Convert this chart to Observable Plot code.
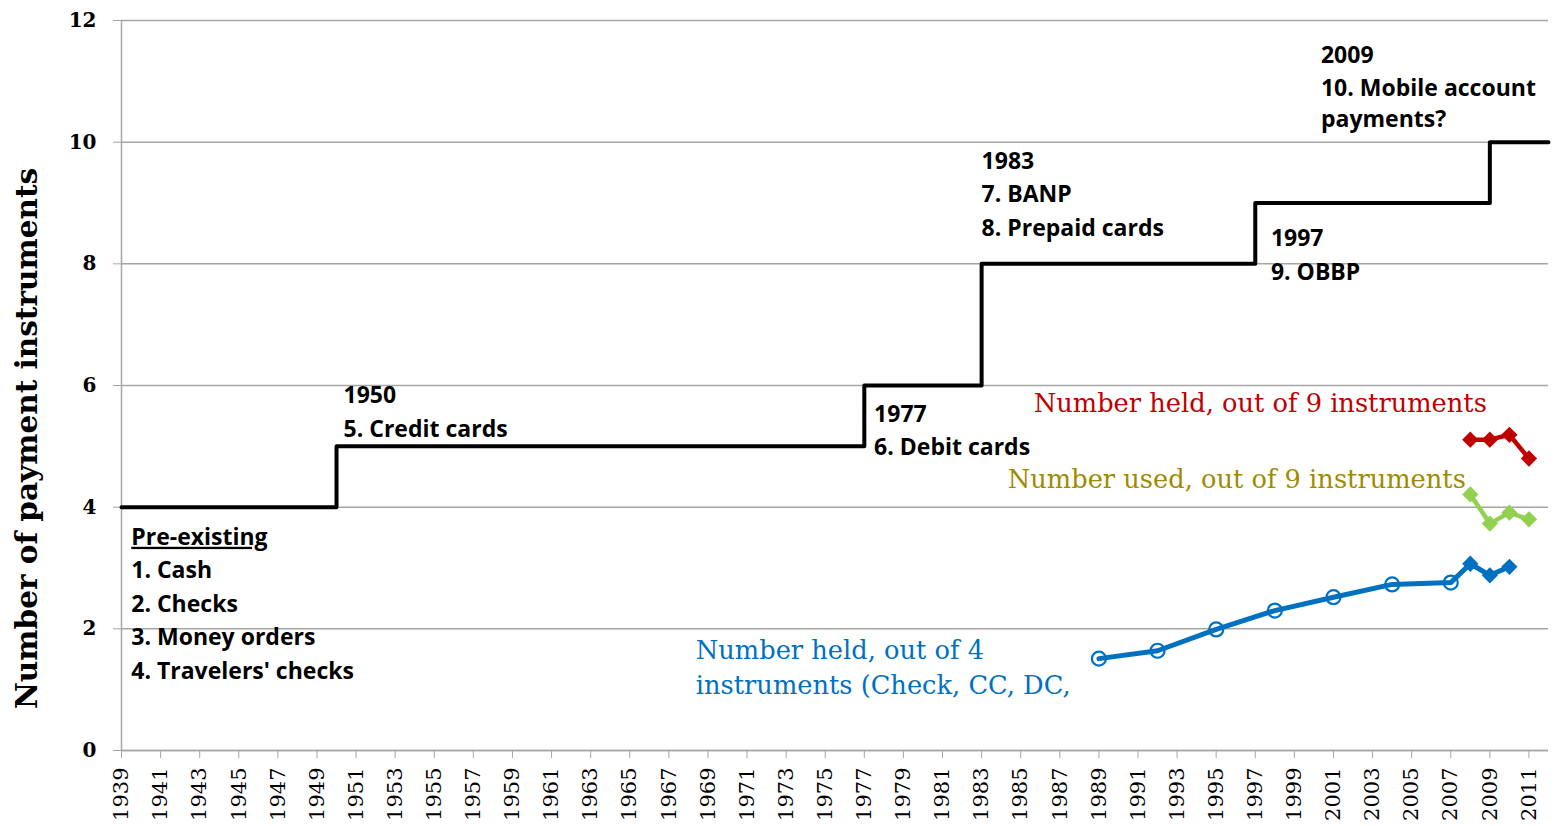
<!DOCTYPE html>
<html>
<head>
<meta charset="utf-8">
<script src="https://cdn.jsdelivr.net/npm/d3@7"></script>
<script src="https://cdn.jsdelivr.net/npm/@observablehq/plot@0.6"></script>
<style>
  html, body { margin: 0; padding: 0; background: #fff; }
  #chart svg { display: block; }
</style>
</head>
<body>
<div id="chart"></div>
<script>
// ---- data ----
const stepYears = [1939, 1950, 1977, 1983, 1997, 2009, 2012];
const stepCounts = [4, 5, 6, 8, 9, 10, 10];

const held4Years = [1989, 1992, 1995, 1998, 2001, 2004, 2007, 2008, 2009, 2010];
const held4Values = [1.51, 1.64, 1.99, 2.30, 2.52, 2.73, 2.76, 3.07, 2.88, 3.02];
const held4Markers = ["circle", "circle", "circle", "circle", "circle", "circle", "circle", "diamond", "diamond", "diamond"];

const surveyYears = [2008, 2009, 2010, 2011];
const held9Values = [5.11, 5.11, 5.19, 4.80];
const used9Values = [4.21, 3.73, 3.91, 3.80];

const yTicks = [0, 2, 4, 6, 8, 10, 12];
const xTicks = [1939, 1941, 1943, 1945, 1947, 1949, 1951, 1953, 1955, 1957, 1959, 1961, 1963, 1965, 1967, 1969, 1971, 1973, 1975, 1977, 1979, 1981, 1983, 1985, 1987, 1989, 1991, 1993, 1995, 1997, 1999, 2001, 2003, 2005, 2007, 2009, 2011];

const noteTexts = [
  "1. Cash\n2. Checks\n3. Money orders\n4. Travelers' checks",
  "1950\n5. Credit cards",
  "1977\n6. Debit cards",
  "1983\n7. BANP\n8. Prepaid cards",
  "1997\n9. OBBP",
  "2009"
];
const noteYears = [1939.5, 1950.36, 1977.5, 1983.0, 1997.8, 2000.36];
const noteValues = [3.23, 6.10, 5.80, 9.96, 8.68, 11.70];

const seriesLabels = ["Number held, out of 9 instruments", "Number used, out of 9 instruments", "Number held, out of 4\ninstruments (Check, CC, DC,"];
const seriesLabelYears = [1985.67, 1984.34, 1968.38];
const seriesLabelValues = [5.75, 4.50, 1.40];
const seriesColors = ["#C00000", "#9E8C00", "#0070C0"];

// ---- tables ----
const stepData = stepYears.map((y, i) => ({year: y, n: stepCounts[i]}));
const held4 = held4Years.map((y, i) => ({year: y, v: held4Values[i], m: held4Markers[i]}));
const held9 = surveyYears.map((y, i) => ({year: y, v: held9Values[i]}));
const used9 = surveyYears.map((y, i) => ({year: y, v: used9Values[i]}));
const notes = noteTexts.map((t, i) => ({text: t, year: noteYears[i], v: noteValues[i]}));
const labels = seriesLabels.map((t, i) => ({text: t, year: seriesLabelYears[i], v: seriesLabelValues[i], c: seriesColors[i]}));

const calibri = "'Open Sans', Lato, sans-serif";
const serif = "'DejaVu Serif', serif";
const grid = "#a6a6a6";
const noteSize = 23;

const chart = Plot.plot({
  width: 1556,
  height: 826,
  marginLeft: 121,
  marginRight: 8,
  marginTop: 20,
  marginBottom: 76,
  style: {background: "#fff"},
  x: {domain: [1939, 2012]},
  y: {domain: [0, 12]},
  marks: [
    Plot.gridY(yTicks, {stroke: grid, strokeOpacity: 1, strokeWidth: 1.5}),
    Plot.ruleX([1939], {stroke: grid, strokeWidth: 1.5}),
    Plot.ruleY([0], {stroke: grid, strokeWidth: 1.5}),
    Plot.axisY(yTicks, {tickSize: 8, stroke: grid, label: null, tickFormat: () => ""}),
    Plot.axisX(xTicks, {tickSize: 8, stroke: grid, label: null, tickFormat: () => ""}),
    Plot.text(yTicks, {y: d => d, text: d => String(d), frameAnchor: "left", dx: -25, textAnchor: "end", fontSize: 20, fontWeight: "bold", fontFamily: serif, fill: "#000"}),
    Plot.text(xTicks, {x: d => d, text: d => String(d), frameAnchor: "bottom", dy: 17, rotate: -90, textAnchor: "end", lineAnchor: "middle", fontSize: 21, fontFamily: serif, fill: "#000"}),
    Plot.text(["Number of payment instruments"], {frameAnchor: "left", textAnchor: "middle", dx: -94, dy: 53, rotate: -90, fontSize: 29.5, fontWeight: "bold", fontFamily: serif, fill: "#000"}),
    Plot.line(stepData, {x: "year", y: "n", curve: "step-after", stroke: "#000", strokeWidth: 4}),
    Plot.line(held4, {x: "year", y: "v", stroke: "#0070C0", strokeWidth: 5}),
    Plot.dot(held4.filter(d => d.m === "circle"), {x: "year", y: "v", r: 7, stroke: "#0070C0", strokeWidth: 2.2, fill: "none"}),
    Plot.dot(held4.filter(d => d.m === "diamond"), {x: "year", y: "v", r: 6.5, symbol: "square", rotate: 45, fill: "#0070C0"}),
    Plot.line(held9, {x: "year", y: "v", stroke: "#C00000", strokeWidth: 4.5}),
    Plot.dot(held9, {x: "year", y: "v", r: 6.5, symbol: "square", rotate: 45, fill: "#C00000"}),
    Plot.line(used9, {x: "year", y: "v", stroke: "#92D050", strokeWidth: 4.5}),
    Plot.dot(used9, {x: "year", y: "v", r: 6.5, symbol: "square", rotate: 45, fill: "#92D050"}),
    Plot.text(notes, {x: "year", y: "v", text: "text", textAnchor: "start", lineAnchor: "top", lineHeight: 1.465, fontSize: noteSize, fontWeight: "bold", fontFamily: calibri, fill: "#000"}),
    Plot.text(["Pre-existing"], {x: [1939.5], y: [3.65], textAnchor: "start", lineAnchor: "top", fontSize: noteSize, fontWeight: "bold", fontFamily: calibri, fill: "#000", className: "underlined"}),
    Plot.text(["10. Mobile account\npayments?"], {x: [2000.36], y: [11.115], textAnchor: "start", lineAnchor: "top", lineHeight: 1.33, fontSize: noteSize, fontWeight: "bold", fontFamily: calibri, fill: "#000"}),
    Plot.text(labels, {x: "year", y: "v", text: "text", fill: "c", textAnchor: "start", lineAnchor: "middle", lineHeight: 1.38, fontSize: 25.7, fontFamily: serif})
  ]
});
d3.select(chart).selectAll(".underlined text").style("text-decoration", "underline");
document.getElementById("chart").appendChild(chart);
</script>
</body>
</html>
